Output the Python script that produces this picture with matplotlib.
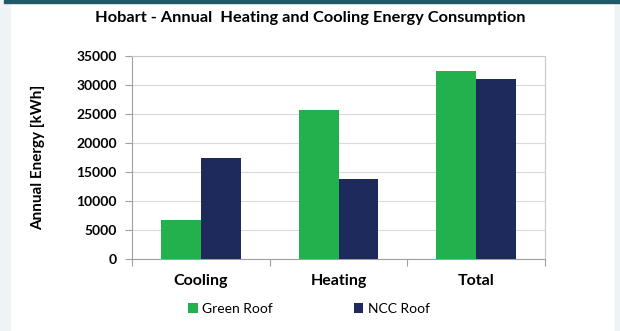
import matplotlib
matplotlib.use("Agg")
import matplotlib.pyplot as plt
from matplotlib.patches import Rectangle
import numpy as np

# data
categories = ["Cooling", "Heating", "Total"]
green_roof = [6700, 25700, 32400]
ncc_roof = [17400, 13800, 31100]
yticks = [0, 5000, 10000, 15000, 20000, 25000, 30000, 35000]

plt.rcParams['font.family'] = ['Lato', 'DejaVu Sans']

fig = plt.figure(figsize=(6.2, 3.31), dpi=100)
fig.patch.set_facecolor("white")

# page frame: light side bands and dark top rule
fig.patches.append(Rectangle((0, 0), 10/620, 1, transform=fig.transFigure, color="#eef4f6", zorder=0))
fig.patches.append(Rectangle((615/620, 0), 5/620, 1, transform=fig.transFigure, color="#eef4f6", zorder=0))
fig.patches.append(Rectangle((4/620, 1 - 3/331), 1, 3/331, transform=fig.transFigure, color="#1e5a6a", zorder=1))

ax = fig.add_axes([132/620, 1 - 259/331, 413/620, 203/331])
x = np.arange(len(categories))
w = 0.29
ax.bar(x - w/2, green_roof, w, color="#22b14c", label="Green Roof", zorder=3)
ax.bar(x + w/2, ncc_roof, w, color="#1f2a5c", label="NCC Roof", zorder=3)

ax.set_xlim(-0.5, 2.5)
ax.set_ylim(0, 35000)
ax.set_yticks(yticks)
ax.set_yticklabels([str(v) for v in yticks], fontsize=10, fontweight="bold")
ax.yaxis.grid(True, color="#d9d9d9", linewidth=0.8, zorder=0)
ax.set_xticks([-0.5, 0.5, 1.5, 2.5])
ax.set_xticklabels([])
ax.set_xticks(x, minor=True)
ax.set_xticklabels(categories, minor=True, fontsize=11.5, fontweight="bold")
ax.tick_params(axis="x", which="minor", length=0, pad=11)
ax.tick_params(axis="x", which="major", length=5, color="#a0a0a0")
ax.tick_params(axis="y", length=5, color="#a0a0a0", pad=6)
for s in ax.spines.values():
    s.set_color("#c8c8c8")
ax.spines["left"].set_color("#a0a0a0")
ax.spines["bottom"].set_color("#a0a0a0")

ax.set_ylabel("Annual Energy [kWh]", fontsize=11, fontweight="bold", labelpad=22)
fig.text(0.5, 1 - 18/331, "Hobart - Annual  Heating and Cooling Energy Consumption",
         ha="center", va="center", fontsize=11.8, fontweight="bold")

fig.legend(loc="center", bbox_to_anchor=(309/620, 1 - 309/331), ncol=2, frameon=False,
           fontsize=10, handlelength=0.7, handleheight=0.7, handletextpad=0.3, columnspacing=5.8)

fig.savefig("out.png", dpi=100)
